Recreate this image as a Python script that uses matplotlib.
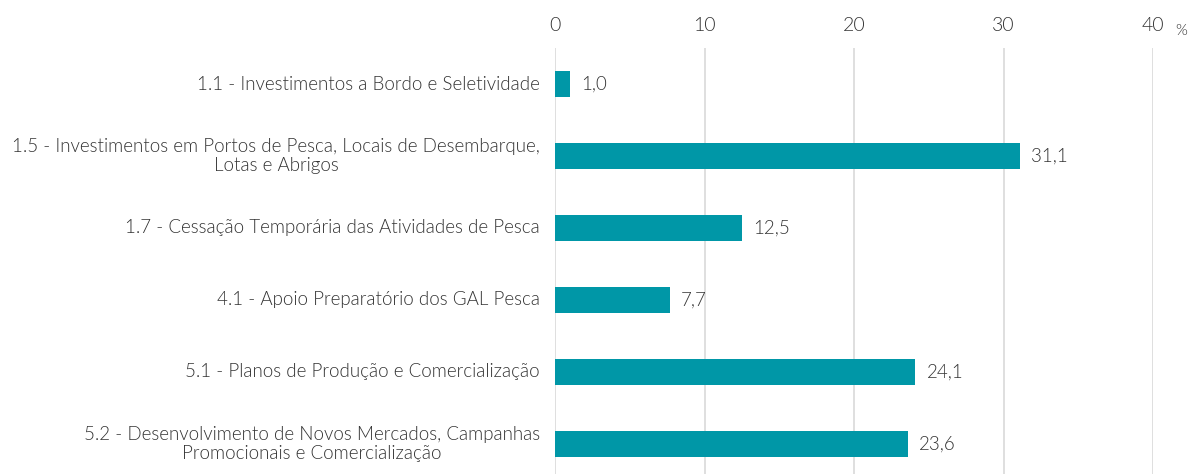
import matplotlib.pyplot as plt

categories = [
    "1.1 - Investimentos a Bordo e Seletividade",
    "1.5 - Investimentos em Portos de Pesca, Locais de Desembarque,\nLotas e Abrigos",
    "1.7 - Cessação Temporária das Atividades de Pesca",
    "4.1 - Apoio Preparatório dos GAL Pesca",
    "5.1 - Planos de Produção e Comercialização",
    "5.2 - Desenvolvimento de Novos Mercados, Campanhas\nPromocionais e Comercialização",
]
values = [1.0, 31.1, 12.5, 7.7, 24.1, 23.6]
xticks = [0, 10, 20, 30, 40]

bar_color = "#0097A7"
text_color = "#333333"

plt.rcParams['font.family'] = ['Lato', 'DejaVu Sans']
plt.rcParams['font.weight'] = 300

fig = plt.figure(figsize=(11.9, 4.74), dpi=100)
ax = fig.add_axes([555 / 1190, 0, 598 / 1190, 426 / 474])

y = list(range(len(categories)))
ax.barh(y, values, height=0.36, color=bar_color, zorder=3)

ax.set_xlim(0, 40)
ax.set_ylim(5 + 30 / 72, -0.5)

ax.set_xticks(xticks)
ax.xaxis.tick_top()
ax.tick_params(axis='x', length=0, pad=10, labelsize=14, labelcolor=text_color)
ax.set_yticks([])

# category labels: right aligned, wrapped lines centred
for yi, cat in zip(y, categories):
    ax.annotate(cat, xy=(0, yi), xycoords=('axes fraction', 'data'),
                xytext=(-15, 0), textcoords='offset pixels',
                ha='right', va='center', multialignment='center',
                fontsize=13.5, color=text_color, linespacing=1.2)

ax.grid(axis='x', color='#d9d9d9', linewidth=1.2, zorder=0)
for s in ax.spines.values():
    s.set_visible(False)

for yi, v in zip(y, values):
    ax.text(v + 0.75, yi, f"{v:.1f}".replace('.', ','), va='center', ha='left',
            fontsize=13.5, color=text_color)

fig.text(1181 / 1190, 1 - 31 / 474, "%", ha='center', va='center',
         fontsize=11, color=text_color)

fig.savefig('out.png', dpi=100)
